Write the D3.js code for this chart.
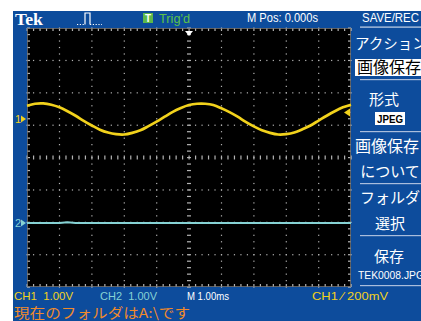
<!DOCTYPE html>
<html><head><meta charset="utf-8">
<script src="https://cdn.jsdelivr.net/npm/d3@7"></script>
<style>html,body{margin:0;padding:0;background:#fff;overflow:hidden}svg{display:block}</style>
</head><body>
<script>
// ---- data ----
const times = [-5,-4.75,-4.5,-4.25,-4,-3.75,-3.5,-3.25,-3,-2.75,-2.5,-2.25,-2,-1.75,-1.5,-1.25,-1,-0.75,-0.5,-0.25,0,0.25,0.5,0.75,1,1.25,1.5,1.75,2,2.25,2.5,2.75,3,3.25,3.5,3.75,4,4.25,4.5,4.75,5]; // ms
const ch1Volts = [0.41,0.47,0.48,0.44,0.36,0.24,0.10,-0.06,-0.20,-0.33,-0.42,-0.47,-0.48,-0.43,-0.35,-0.22,-0.08,0.07,0.22,0.34,0.43,0.47,0.47,0.43,0.33,0.21,0.07,-0.09,-0.23,-0.35,-0.43,-0.48,-0.47,-0.42,-0.32,-0.20,-0.05,0.10,0.24,0.36,0.44];
const ch2Volts = [0,0,0,0,0,0.02,0,0,0,0,0,0,0,0,0,0,0,0,0,0,0,0,0,0,0,0,0,0,0,0,0,0,0,0,0,0,0,0,0,0,0];
const ch1Position = 1.19;   // divisions above centre
const ch2Position = -2.02;
const triggerLevel = 0.2;   // V
const voltsPerDiv = 1.0;
const timeDivs = [-5,-4,-3,-2,-1,0,1,2,3,4,5];
const voltDivs = [-4,-3,-2,-1,0,1,2,3,4];
const menuItems = ["アクション","画像保存","形式","JPEG","画像保存","について","フォルダ","選択","保存","TEK0008.JPG"];
const statusTexts = ["CH1  1.00V","CH2  1.00V","M 1.00ms","CH1 ⁄ 200mV"];
const messageText = "現在のフォルダはA:\\です";

const W=421,H=321;
const BLUE="#0d4c9c", YEL="#f2d21c", CYAN="#86d2d4", GRID="#b4b4b4";
const svg=d3.select("body").append("svg").attr("width",W).attr("height",H);
svg.append("rect").attr("width",W).attr("height",H).attr("fill","#fff");
svg.append("rect").attr("x",13).attr("y",11).attr("width",W-13).attr("height",H-11).attr("fill",BLUE);

const x=d3.scaleLinear().domain([-5,5]).range([27,351]);
const yDiv=d3.scaleLinear().domain([-4,4]).range([287,28]);
svg.append("rect").attr("x",x(-5)).attr("y",yDiv(4)).attr("width",x(5)-x(-5)).attr("height",yDiv(-4)-yDiv(4)).attr("fill","#000");

const g=svg.append("g");
const minorX=d3.range(-5,5.001,0.2), minorY=d3.range(-4,4.001,0.2);
timeDivs.filter(d=>d>-5&&d<5&&d!==0).forEach(d=>{
  g.selectAll(null).data(minorY).join("rect").attr("x",x(d)-0.5).attr("y",v=>yDiv(v)-0.5).attr("width",1.2).attr("height",1.2).attr("fill",GRID);
});
voltDivs.filter(d=>d>-4&&d<4&&d!==0).forEach(d=>{
  g.selectAll(null).data(minorX).join("rect").attr("x",v=>x(v)-0.5).attr("y",yDiv(d)-0.5).attr("width",1.2).attr("height",1.2).attr("fill",GRID);
});
g.selectAll(null).data(minorY).join("rect").attr("x",x(0)-2).attr("y",v=>yDiv(v)-0.5).attr("width",4).attr("height",1.2).attr("fill",GRID);
g.selectAll(null).data(minorX).join("rect").attr("x",v=>x(v)-0.5).attr("y",yDiv(0)-2).attr("width",1.2).attr("height",4).attr("fill",GRID);
g.selectAll(null).data(minorY).join("rect").attr("x",x(-5)).attr("y",v=>yDiv(v)-0.5).attr("width",3).attr("height",1.2).attr("fill",GRID);
g.selectAll(null).data(minorY).join("rect").attr("x",x(5)-3).attr("y",v=>yDiv(v)-0.5).attr("width",3).attr("height",1.2).attr("fill",GRID);
g.selectAll(null).data(minorX).join("rect").attr("x",v=>x(v)-0.5).attr("y",yDiv(4)).attr("width",1.2).attr("height",3).attr("fill",GRID);
g.selectAll(null).data(minorX).join("rect").attr("x",v=>x(v)-0.5).attr("y",yDiv(-4)-3).attr("width",1.2).attr("height",3).attr("fill",GRID);
g.append("rect").attr("x",x(-5)+0.5).attr("y",yDiv(4)+0.5).attr("width",x(5)-x(-5)-1).attr("height",yDiv(-4)-yDiv(4)-1).attr("fill","none").attr("stroke","#777").attr("stroke-width",0.8);

// traces
const yCh1=v=>yDiv(ch1Position+v/voltsPerDiv), yCh2=v=>yDiv(ch2Position+v/voltsPerDiv);
const data1=times.map((t,i)=>[t,ch1Volts[i]]), data2=times.map((t,i)=>[t,ch2Volts[i]]);
svg.append("path").datum(data2).attr("fill","none").attr("stroke",CYAN).attr("stroke-width",2)
  .attr("d",d3.line().x(d=>x(d[0])).y(d=>yCh2(d[1])));
svg.append("path").datum(data1).attr("fill","none").attr("stroke",YEL).attr("stroke-width",2.7)
  .attr("d",d3.line().curve(d3.curveCardinal).x(d=>x(d[0])).y(d=>yCh1(d[1])));

function marker(label,yy,col){
  svg.append("text").attr("x",15).attr("y",yy+4).attr("fill",col).attr("font-family","Liberation Sans").attr("font-size",11).text(label);
  svg.append("path").attr("d",`M21,${yy-3.5}L26,${yy}L21,${yy+3.5}Z`).attr("fill",col);
}
marker("1",yCh1(0),YEL);
marker("2",yCh2(0),CYAN);
const ty=yCh1(triggerLevel);
svg.append("path").attr("d",`M344,${ty}L350,${ty-4}L350,${ty+4}Z`).attr("fill",YEL);
svg.append("path").attr("d",`M${x(0)-4},31L${x(0)+4},31L${x(0)},36Z`).attr("fill","#fff");

// header
const F="Liberation Sans", J="Noto Sans CJK JP";
svg.append("text").attr("x",15).attr("y",25).attr("fill","#fff").attr("font-family","Liberation Serif").attr("font-weight","bold").attr("font-size",17).attr("textLength",28).attr("lengthAdjust","spacingAndGlyphs").text("Tek");
svg.append("path").attr("d","M77,24.5H85").attr("stroke","#fff").attr("stroke-width",1.2).attr("stroke-dasharray","1.2,1.6");
svg.append("path").attr("d","M90,24.5H102").attr("stroke","#fff").attr("stroke-width",1.2).attr("stroke-dasharray","1.2,1.6");
svg.append("path").attr("d","M85,24.5V13H90V24.5").attr("fill","none").attr("stroke","#fff").attr("stroke-width",1.2);
svg.append("rect").attr("x",143).attr("y",13).attr("width",10).attr("height",10).attr("fill","#5cb84a");
svg.append("text").attr("x",148).attr("y",21.5).attr("text-anchor","middle").attr("fill","#fff").attr("font-family",F).attr("font-weight","bold").attr("font-size",10).text("T");
svg.append("text").attr("x",159).attr("y",22.5).attr("fill","#5cc04a").attr("font-family",F).attr("font-size",12.5).attr("textLength",31).attr("lengthAdjust","spacingAndGlyphs").text("Trig'd");
svg.append("text").attr("x",247).attr("y",22).attr("fill","#fff").attr("font-family",F).attr("font-size",12).attr("textLength",71).attr("lengthAdjust","spacingAndGlyphs").text("M Pos: 0.000s");
svg.append("text").attr("x",362).attr("y",22).attr("fill","#fff").attr("font-family",F).attr("font-size",12).attr("textLength",57).attr("lengthAdjust","spacingAndGlyphs").text("SAVE/REC");
svg.append("rect").attr("x",360).attr("y",26.5).attr("width",61).attr("height",1.2).attr("fill","#c8d4e8");

// right menu
[79,131,183,235,285].forEach(yy=>svg.append("rect").attr("x",360).attr("y",yy).attr("width",61).attr("height",1.2).attr("fill","#a9bddc"));
svg.append("rect").attr("x",355).attr("y",59).attr("width",66).attr("height",17).attr("fill","#fff");
svg.append("rect").attr("x",375).attr("y",112).attr("width",30).attr("height",13).attr("fill","#fff");
const mt=(t,xx,yy,opt={})=>svg.append("text").attr("x",xx).attr("y",yy).attr("fill",opt.fill||"#fff").attr("font-family",opt.font||J).attr("font-size",opt.size||15).attr("font-weight",opt.bold?"bold":null).attr("text-anchor",opt.anchor||"start").text(t);
mt(menuItems[0],355,49,{size:14.5});
mt(menuItems[1],357,73,{fill:"#000",size:16});
mt(menuItems[2],384,105,{anchor:"middle"});
svg.append("text").attr("x",390).attr("y",123).attr("text-anchor","middle").attr("fill","#000").attr("font-family",F).attr("font-weight","bold").attr("font-size",11.5).attr("textLength",26).attr("lengthAdjust","spacingAndGlyphs").text(menuItems[3]);
mt(menuItems[4],355,152,{size:16});
mt(menuItems[5],390,177,{anchor:"middle"});
mt(menuItems[6],390,203,{anchor:"middle"});
mt(menuItems[7],390,229,{anchor:"middle"});
mt(menuItems[8],389,262,{anchor:"middle"});
svg.append("text").attr("x",358).attr("y",278.5).attr("fill","#fff").attr("font-family",F).attr("font-size",11).attr("textLength",66).attr("lengthAdjust","spacingAndGlyphs").text(menuItems[9]);

// status line
const st=[[statusTexts[0],14,59,YEL],[statusTexts[1],100,57,CYAN],[statusTexts[2],187,42,"#fff"],[statusTexts[3],312,76,YEL]];
st.forEach(([t,xx,w,c])=>svg.append("text").attr("x",xx).attr("y",299.5).attr("fill",c).attr("font-family",F).attr("font-size",11.5).attr("textLength",w).attr("lengthAdjust","spacingAndGlyphs").attr("xml:space","preserve").style("white-space","pre").text(t));
svg.append("text").attr("x",14).attr("y",318).attr("fill","#f08a2c").attr("font-family",J).attr("font-size",13.5).attr("textLength",176).attr("lengthAdjust","spacingAndGlyphs").text(messageText);
</script>
</body></html>
